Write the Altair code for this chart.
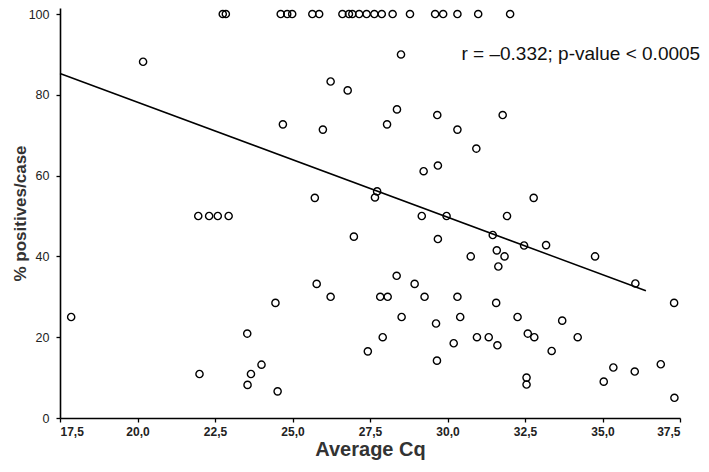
import altair as alt
import pandas as pd

# Points at 100 %
top_x = [22.75, 22.85, 24.62, 24.83, 24.99, 25.64, 25.86, 26.61, 26.82, 26.93,
         27.15, 27.39, 27.64, 27.88, 28.23, 28.79, 29.60, 29.86, 30.32, 30.99, 32.02]

# Remaining points (Average Cq, % positives/case)
pt_x = [20.18, 21.96, 22.31, 22.59, 22.94, 17.86, 23.54, 24.00, 22.00, 23.66,
        23.55, 29.17, 29.97, 31.92, 26.98, 29.69, 30.75, 31.84, 24.45, 24.52,
        25.78, 26.23, 28.36, 28.94, 27.83, 28.07, 29.26, 30.32, 28.52, 29.63,
        30.41, 27.91, 27.43, 30.20, 29.66, 30.95, 31.33, 31.46, 32.47, 33.18,
        31.59, 31.64, 34.76, 36.06, 31.57, 37.31, 32.26, 33.70, 32.59, 32.80,
        31.61, 34.20, 33.36, 32.55, 32.55, 35.35, 35.04, 36.04, 36.88, 37.32,
        28.50, 26.23, 26.78, 28.37, 29.67, 24.69, 25.98, 28.05, 30.32, 30.93,
        29.23, 29.69, 25.72, 27.73, 27.66, 31.78, 32.78]
pt_y = [88.2, 50.0, 50.0, 50.0, 50.0, 25.0, 20.9, 13.2, 10.9, 10.9,
        8.2, 50.0, 50.0, 50.0, 44.9, 44.3, 40.0, 40.0, 28.5, 6.6,
        33.2, 30.0, 35.2, 33.2, 30.0, 30.0, 30.0, 30.0, 25.0, 23.4,
        25.0, 20.0, 16.5, 18.5, 14.2, 20.0, 20.0, 45.3, 42.7, 42.8,
        41.5, 37.5, 40.0, 33.3, 28.5, 28.5, 25.0, 24.1, 20.9, 20.0,
        18.0, 20.0, 16.6, 10.0, 8.3, 12.5, 9.0, 11.5, 13.3, 5.0,
        90.0, 83.3, 81.1, 76.4, 75.0, 72.7, 71.4, 72.7, 71.4, 66.7,
        61.1, 62.5, 54.5, 56.1, 54.6, 75.0, 54.5]

# Regression line end points
line_x = [17.5, 36.4]
line_y = [85.3, 31.5]

x_ticks = [17.5, 20.0, 22.5, 25.0, 27.5, 30.0, 32.5, 35.0, 37.5]
y_ticks = [0, 20, 40, 60, 80, 100]

annotation = "r = \u20130.332; p-value < 0.0005"

pts = pd.DataFrame({
    "cq": top_x + pt_x,
    "pct": [100.0] * len(top_x) + pt_y,
})
line_df = pd.DataFrame({"cq": line_x, "pct": line_y})
ann_df = pd.DataFrame({"cq": [38.15], "pct": [88.6], "label": [annotation]})

x_scale = alt.Scale(domain=[17.5, 37.5], nice=False, zero=False)
y_scale = alt.Scale(domain=[0, 101.5], nice=False)

x_axis = alt.Axis(
    title="Average Cq", values=x_ticks,
    labelExpr="replace(format(datum.value, '.1f'), '.', ',')",
    grid=False, domainColor="black", domainWidth=1.6, tickColor="black",
    tickSize=4, tickWidth=1.3, labelPadding=4, labelFont="Liberation Sans",
    labelFontSize=12, labelFontWeight="bold", labelColor="#222",
    titleFont="Liberation Sans", titleFontSize=20, titleFontWeight="bold",
    titleColor="#333", titleY=37, titleBaseline="alphabetic",
)
y_axis = alt.Axis(
    title="% positives/case", values=y_ticks, format="d",
    grid=False, domainColor="black", domainWidth=1.6, tickColor="black",
    tickSize=4, tickWidth=1.3, labelPadding=7, labelFont="Liberation Sans",
    labelFontSize=12.5, labelColor="#222",
    titleFont="Liberation Sans", titleFontSize=17, titleFontWeight="bold",
    titleColor="#333", titleX=-31, titleBaseline="bottom",
)

points = alt.Chart(pts).mark_point(
    shape="circle", filled=False, size=52, strokeWidth=1.4, color="black", opacity=1
).encode(
    x=alt.X("cq:Q", scale=x_scale, axis=x_axis),
    y=alt.Y("pct:Q", scale=y_scale, axis=y_axis),
)

reg = alt.Chart(line_df).mark_line(color="black", strokeWidth=1.5).encode(
    x=alt.X("cq:Q", scale=x_scale),
    y=alt.Y("pct:Q", scale=y_scale),
)

text = alt.Chart(ann_df).mark_text(
    align="right", baseline="alphabetic", font="Liberation Sans",
    fontSize=19, color="#111"
).encode(
    x=alt.X("cq:Q", scale=x_scale),
    y=alt.Y("pct:Q", scale=y_scale),
    text="label:N",
)

chart = alt.layer(reg, points, text).properties(
    width=620, height=410,
    autosize=alt.AutoSizeParams(type="none"),
    padding={"left": 52, "top": 0, "right": 21, "bottom": 46},
).configure_view(stroke=None)

chart.save("out.html", embed_options={"renderer": "svg", "actions": False})
